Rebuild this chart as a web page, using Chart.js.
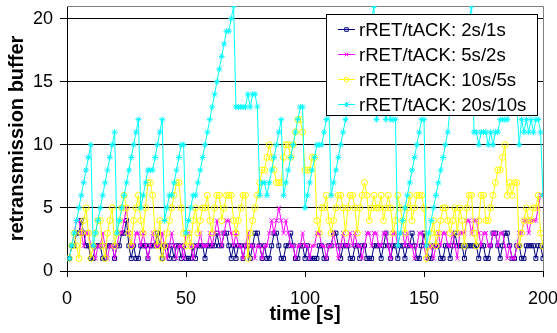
<!DOCTYPE html>
<html>
<head>
<meta charset="utf-8">
<script src="https://cdn.jsdelivr.net/npm/chart.js"></script>
<style>
  html, body { margin: 0; padding: 0; background: #fff; }
  canvas { display: block; }
</style>
</head>
<body>
<canvas id="bufChart" width="557" height="333"></canvas>
<script>
// values, one sample per second (t = 1 ... 200)
const seriesLabels = ['rRET/tACK: 2s/1s', 'rRET/tACK: 5s/2s', 'rRET/tACK: 10s/5s', 'rRET/tACK: 20s/10s'];
const xTicks = [0, 50, 100, 150, 200];
const yTicks = [0, 5, 10, 15, 20];

const buf2s1s = [
  1,2,2,3,3,4,3,2,2,1, 1,2,2,2,1,1,2,2,2,1, 2,2,3,3,4,2,1,2,1,1, 2,2,2,1,2,2,2,3,2,1,
  2,2,1,2,1,2,2,1,2,1, 1,1,2,1,2,2,2,1,2,2, 2,2,3,2,2,3,3,2,1,2, 1,2,2,1,2,2,1,2,3,3,
  2,1,2,1,1,2,3,3,2,1, 1,2,2,3,2,1,1,2,2,1, 2,1,1,1,1,2,2,1,1,2, 2,3,3,2,1,2,2,2,1,1,
  2,2,1,2,2,1,1,1,2,2, 2,1,2,3,2,1,2,2,1,2, 2,1,2,2,3,2,1,1,2,3, 2,1,1,2,2,2,1,1,2,2,
  1,2,3,2,2,2,1,2,2,2, 2,2,1,2,2,1,1,2,3,3, 2,1,2,3,3,2,1,1,2,2, 1,1,2,2,2,2,1,2,2,1
];
const buf5s2s = [
  1,2,3,4,4,3,2,3,3,2, 2,1,2,2,3,2,1,2,2,1, 2,3,3,4,5,3,2,2,3,3, 2,3,2,1,2,3,2,2,2,3,
  2,1,2,3,2,1,2,2,1,3, 3,2,1,2,2,3,2,2,2,3, 2,3,4,3,2,3,4,4,3,2, 3,2,2,1,2,3,2,2,1,2,
  2,1,2,2,3,4,3,4,5,4, 3,4,3,2,2,1,2,2,3,2, 2,1,2,2,3,3,2,2,1,2, 2,3,2,1,2,3,2,2,3,2,
  3,2,2,1,2,3,3,2,3,3, 2,2,3,3,2,1,3,3,2,3, 3,2,3,2,2,1,2,3,3,2, 1,2,2,1,2,3,2,3,3,2,
  2,3,2,1,3,3,3,4,4,3, 4,4,3,2,3,3,2,2,3,3, 2,3,3,2,1,2,1,1,2,3, 3,4,4,3,4,4,4,5,6,6
];
const buf10s5s = [
  1,2,3,2,1,3,4,5,3,1, 2,3,4,4,2,1,3,4,5,2, 3,4,5,6,5,3,2,4,5,6, 4,3,5,7,7,6,3,2,4,1,
  2,3,4,5,6,7,7,5,3,2, 3,2,4,5,3,4,5,5,6,4, 3,5,6,6,4,5,6,6,6,4, 3,4,5,6,6,1,3,4,5,6,
  7,8,8,9,10,9,8,7,7,7, 9,10,10,9,10,11,12,12,11,8, 8,8,9,9,4,3,5,5,6,4, 3,4,5,6,6,5,3,5,6,6,
  5,3,5,6,7,6,4,5,6,5, 5,6,4,5,6,5,3,4,6,5, 4,3,5,6,4,5,6,6,6,5, 1,2,3,4,2,3,4,5,5,4,
  3,4,5,3,5,4,2,5,6,6, 3,2,4,6,6,4,4,5,6,7, 8,8,9,10,6,7,6,7,7,2, 3,4,5,4,4,5,5,6,3,2
];
const buf20s10s = [
  1,2,3,4,5,6,7,8,9,10, 2,3,4,5,6,7,8,9,10,11, 3,4,5,6,7,8,9,10,11,12, 5,6,7,8,8,8,9,10,11,12,
  4,5,6,6,7,8,9,10,10,3, 4,5,6,6,7,8,9,10,11,12, 13,14,15,16,17,18,19,19,20,21, 13,13,13,13,13,14,13,14,14,13,
  6,7,7,6,7,8,9,10,11,12, 6,7,8,9,10,11,12,13,13,5, 6,7,8,9,10,10,10,11,12,13, 6,7,8,9,10,11,12,13,14,15,
  16,17,18,18,19,19,20,20,21,12, 13,14,13,12,13,12,12,12,2,3, 4,5,6,7,8,9,10,11,12,12, 2,3,4,5,6,7,8,9,10,11,
  13,14,15,16,17,18,19,19,20,21, 11,11,10,11,11,11,10,11,10,11, 11,12,12,12,12,13,14,14,13,10, 12,11,12,11,12,11,12,12,11,6
];

const allSeries = [buf2s1s, buf5s2s, buf10s5s, buf20s10s];
const colors = ['#000080', '#ff00ff', '#ffff00', '#00ffff'];
const markers = ['rect', 'crossRot', 'circle', 'star'];
const markerSize = [2.8, 3, 3, 3];

const datasets = allSeries.map((vals, k) => ({
  label: seriesLabels[k],
  data: vals.map((v, i) => ({ x: i + 1, y: v })),
  borderColor: colors[k],
  backgroundColor: 'rgba(0,0,0,0)',
  borderWidth: 1,
  pointStyle: markers[k],
  pointRadius: markerSize[k],
  pointBorderWidth: 1,
  pointBorderColor: colors[k],
  pointBackgroundColor: 'rgba(0,0,0,0)',
  tension: 0,
  order: 3 - k          // excel draws the last series on top
}));

// gray frame on top and right of the plot area
const frame = {
  id: 'frame',
  beforeDatasetsDraw(chart) {
    const { ctx, chartArea: a } = chart;
    ctx.save();
    ctx.strokeStyle = '#808080';
    ctx.lineWidth = 1;
    ctx.beginPath();
    ctx.moveTo(a.left, a.top + 0.5);
    ctx.lineTo(a.right + 0.5, a.top + 0.5);
    ctx.lineTo(a.right + 0.5, a.bottom);
    ctx.stroke();
    ctx.restore();
  }
};

// legend box sitting inside the plot, covering the data behind it
const boxLegend = {
  id: 'boxLegend',
  afterDatasetsDraw(chart) {
    const ctx = chart.ctx;
    ctx.save();
    ctx.fillStyle = '#fff';
    ctx.strokeStyle = '#000';
    ctx.lineWidth = 1;
    ctx.fillRect(326.5, 14.5, 211, 101);
    ctx.strokeRect(326.5, 14.5, 211, 101);
    ctx.font = '18.6px "Liberation Sans", Arial, sans-serif';
    ctx.textBaseline = 'middle';
    ctx.textAlign = 'left';
    chart.data.datasets.forEach((ds, k) => {
      const y = 29.5 + k * 25;
      ctx.strokeStyle = ds.borderColor;
      ctx.beginPath();
      ctx.moveTo(338, y);
      ctx.lineTo(355, y);
      ctx.stroke();
      ctx.fillStyle = 'rgba(0,0,0,0)';
      Chart.helpers.drawPoint(ctx, { pointStyle: ds.pointStyle, radius: 2.5, rotation: 0, borderWidth: 1 }, 346.5, y);
      ctx.fillStyle = '#000';
      ctx.fillText(ds.label, 359, y + 1);
    });
    ctx.restore();
  }
};

const tickFont = { family: '"Liberation Sans", Arial, sans-serif', size: 18 };
const titleFont = { family: '"Liberation Sans", Arial, sans-serif', size: 20, weight: 'bold' };

new Chart(document.getElementById('bufChart'), {
  type: 'line',
  data: { datasets: datasets },
  options: {
    responsive: false,
    animation: false,
    layout: { padding: { top: 6, right: 14, left: 0, bottom: 0 } },
    plugins: { legend: { display: false }, tooltip: { enabled: false } },
    scales: {
      x: {
        type: 'linear',
        min: xTicks[0],
        max: xTicks[xTicks.length - 1],
        afterBuildTicks: s => { s.ticks = xTicks.map(v => ({ value: v })); },
        ticks: { font: tickFont, color: '#000', padding: 11, maxRotation: 0 },
        grid: { drawOnChartArea: false, tickLength: 6, color: '#000' },
        border: { color: '#000' },
        title: { display: true, text: 'time [s]', font: titleFont, color: '#000', padding: { top: 0, bottom: 7 } },
        afterFit: s => { s.height = 62; s.paddingLeft = 0; s.paddingRight = 0; }
      },
      y: {
        min: 0,
        max: 21,
        afterBuildTicks: s => { s.ticks = yTicks.map(v => ({ value: v })); },
        ticks: { font: tickFont, color: '#000', padding: 7 },
        grid: { color: '#000', tickLength: 7 },
        border: { color: '#000' },
        title: { display: true, text: 'retransmission buffer', font: titleFont, color: '#000', padding: { top: 5, bottom: 0 } },
        afterFit: s => { s.width = 67; s.paddingTop = 0; s.paddingBottom = 0; }
      }
    }
  },
  plugins: [frame, boxLegend]
});
</script>
</body>
</html>
